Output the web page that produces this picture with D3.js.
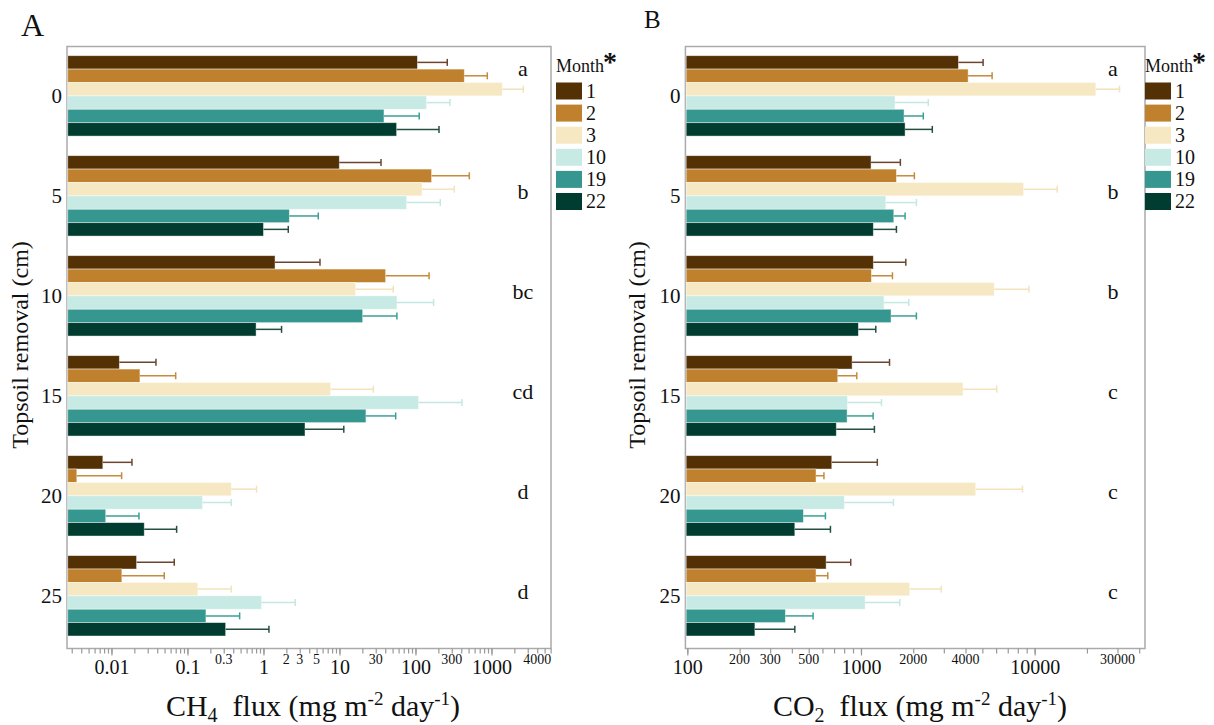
<!DOCTYPE html>
<html>
<head>
<meta charset="utf-8">
<script src="https://cdn.jsdelivr.net/npm/d3@7"></script>
<style>
  body { margin: 0; background: #fff; }
  svg text { font-family: "Liberation Serif", "DejaVu Serif", serif !important; fill: #111; }
</style>
</head>
<body>
<div id="chart"></div>
<script>
var svgWidth = 1214;
var svgHeight = 725;

// months (legend) and topsoil removal depths (y categories)
var months = ["1", "2", "3", "10", "19", "22"];
var depths = ["0", "5", "10", "15", "20", "25"];
var barColors = ["#543005", "#bf812d", "#f6e8c3", "#c7eae5", "#35978f", "#003c30"];
var errColors = ["#6b4530", "#c58a3c", "#f3e3bd", "#c3e8e2", "#3aa096", "#24503f"];

// CH4 flux, one row per depth, one value per month
var ch4Mean = [
  [106, 439, 1387, 140, 38.5, 56.5],
  [9.95, 163, 122, 76.6, 2.19, 1.0],
  [1.42, 40.5, 16.3, 57.1, 20.2, 0.80],
  [0.0127, 0.0237, 7.65, 110, 22.3, 3.52],
  [0.0077, 0.0035, 0.377, 0.158, 0.0084, 0.027],
  [0.0214, 0.0137, 0.137, 0.946, 0.175, 0.318]
];
var ch4Upper = [
  [262, 881, 2620, 284, 112, 204],
  [35.2, 511, 324, 212, 5.26, 2.12],
  [5.54, 151, 51, 173, 57, 1.73],
  [0.0385, 0.070, 27.9, 409, 54.9, 11.4],
  [0.0186, 0.0136, 0.81, 0.377, 0.023, 0.072],
  [0.067, 0.0495, 0.377, 2.62, 0.486, 1.18]
];
var ch4Letters = ["a", "b", "bc", "cd", "d", "d"];

// CO2 flux
var co2Mean = [
  [3640, 4140, 22500, 1570, 1770, 1795],
  [1143, 1600, 8630, 1390, 1545, 1178],
  [1178, 1148, 5850, 1358, 1490, 966],
  [889, 735, 3870, 836, 832, 721],
  [679, 551, 4580, 802, 466, 416],
  [630, 551, 1910, 1057, 367, 245]
];
var co2Upper = [
  [5050, 5690, 30800, 2440, 2285, 2575],
  [1686, 2030, 13500, 2085, 1795, 1600],
  [1812, 1518, 9270, 1885, 2085, 1217],
  [1460, 946, 6050, 1312, 1175, 1195],
  [1242, 612, 8510, 1538, 624, 667],
  [873, 644, 2900, 1672, 530, 416]
];
var co2Letters = ["a", "b", "b", "c", "c", "c"];

// tick labels
var ch4MajorTicks = [0.01, 0.1, 1, 10, 100, 1000];
var ch4SmallTicks = [0.3, 2, 3, 5, 30, 300, 4000];
var co2MajorTicks = [100, 1000, 10000];
var co2SmallTicks = [200, 300, 500, 2000, 4000, 30000];

var svg = d3.select("#chart")
  .append("svg")
  .attr("width", svgWidth)
  .attr("height", svgHeight)
  .attr("font-family", "Liberation Serif, serif");

function minorTicks(domain) {
  var out = [];
  for (var e = -4; e <= 5; e++) {
    for (var k = 1; k <= 9; k++) {
      var v = k * Math.pow(10, e);
      if (v >= domain[0] && v <= domain[1]) out.push(v);
    }
  }
  return out;
}

function drawPanel(p) {
  var x = d3.scaleLog().domain(p.domain).range([p.left, p.right]);
  var y = d3.scaleBand().domain(depths).range([45.7, 646])
    .paddingInner(0.196).paddingOuter(0.1);
  var yInner = d3.scaleBand().domain(months).range([0, y.bandwidth()]);

  var top = 46.5, bottom = 648.5;

  // plot frame
  svg.append("rect")
    .attr("x", p.left).attr("y", top)
    .attr("width", p.right - p.left).attr("height", bottom - top)
    .attr("fill", "none")
    .attr("stroke", "#aaa")
    .attr("stroke-width", 1.5);

  // bars
  var groups = svg.append("g").selectAll("g")
    .data(depths)
    .enter()
    .append("g")
    .attr("transform", d => `translate(0, ${y(d)})`);

  var rowData = (d, i) => months.map((m, j) => ({ m: m, j: j, v: p.mean[i][j], u: p.upper[i][j] }));

  groups.selectAll("rect")
    .data(rowData)
    .enter()
    .append("rect")
    .attr("x", p.left + 0.75)
    .attr("y", d => yInner(d.m))
    .attr("width", d => x(d.v) - p.left - 0.75)
    .attr("height", yInner.bandwidth())
    .attr("fill", d => barColors[d.j])
    .attr("stroke", "rgba(255,255,255,0.55)")
    .attr("stroke-width", 0.8);

  // error bars (upper side only)
  var err = groups.selectAll("g.err")
    .data(rowData)
    .enter()
    .append("g")
    .attr("class", "err")
    .attr("stroke", d => errColors[d.j])
    .attr("stroke-width", 1.5);

  err.append("line")
    .attr("x1", d => x(d.v))
    .attr("x2", d => x(d.u))
    .attr("y1", d => yInner(d.m) + yInner.bandwidth() / 2)
    .attr("y2", d => yInner(d.m) + yInner.bandwidth() / 2);

  err.append("line")
    .attr("x1", d => x(d.u))
    .attr("x2", d => x(d.u))
    .attr("y1", d => yInner(d.m) + yInner.bandwidth() / 2 - 3.5)
    .attr("y2", d => yInner(d.m) + yInner.bandwidth() / 2 + 3.5);

  // significance letters
  svg.append("g").selectAll("text")
    .data(p.letters)
    .enter()
    .append("text")
    .attr("x", p.letterX)
    .attr("y", (d, i) => i === 0 ? y(depths[i]) + 20 : y(depths[i]) + y.bandwidth() / 2 + 3)
    .attr("text-anchor", "middle")
    .attr("font-size", "22px")
    .text(d => d);

  // y tick labels
  svg.append("g").selectAll("text")
    .data(depths)
    .enter()
    .append("text")
    .attr("x", p.left - 5)
    .attr("y", d => y(d) + y.bandwidth() / 2 + 7)
    .attr("text-anchor", "end")
    .attr("font-size", "21px")
    .text(d => d);

  // x axis: minor and major ticks
  var minorAxis = d3.axisBottom(x).tickValues(minorTicks(p.domain))
    .tickSize(5).tickFormat("");
  var gMinor = svg.append("g")
    .attr("transform", `translate(0, ${bottom})`)
    .call(minorAxis);
  gMinor.select(".domain").remove();
  gMinor.selectAll("line").attr("stroke", "#999").attr("stroke-width", 1.2);

  var majorAxis = d3.axisBottom(x).tickValues(p.major)
    .tickSize(7).tickFormat(d => String(d));
  var gMajor = svg.append("g")
    .attr("transform", `translate(0, ${bottom})`)
    .call(majorAxis);
  gMajor.attr("font-family", null).attr("font-size", null);
  gMajor.select(".domain").remove();
  gMajor.selectAll("line").attr("stroke", "#999").attr("stroke-width", 1.2);
  gMajor.selectAll("text")
    .attr("y", 0).attr("dy", null)
    .attr("transform", "translate(0, 25)")
    .attr("font-size", "20px")
    .attr("fill", "#111");

  svg.append("g").selectAll("text")
    .data(p.small)
    .enter()
    .append("text")
    .attr("x", d => x(d))
    .attr("y", bottom + 15)
    .attr("text-anchor", "middle")
    .attr("font-size", "14px")
    .text(d => String(d));

  // x axis title
  var t = svg.append("text")
    .attr("x", p.titleX)
    .attr("y", 716)
    .attr("text-anchor", "middle")
    .attr("font-size", "30px");
  t.append("tspan").text(p.gas);
  t.append("tspan").attr("font-size", "20px").attr("dy", 6).text(p.sub);
  t.append("tspan").attr("dy", -6).text("\u00a0 flux (mg m");
  t.append("tspan").attr("font-size", "19px").attr("dy", -11).text("-2");
  t.append("tspan").attr("dy", 11).text(" day");
  t.append("tspan").attr("font-size", "19px").attr("dy", -11).text("-1");
  t.append("tspan").attr("dy", 11).text(")");

  // y axis title
  svg.append("text")
    .attr("transform", `translate(${p.yTitleX}, 345) rotate(-90)`)
    .attr("text-anchor", "middle")
    .attr("font-size", "24px")
    .text("Topsoil removal (cm)");

  // panel letter
  svg.append("text")
    .attr("x", p.panelX)
    .attr("y", p.panelY)
    .attr("font-size", p.panelSize)
    .text(p.panel);

  // legend
  var lg = svg.append("g").attr("transform", `translate(${p.legendX}, 0)`);
  lg.append("text").attr("x", 0).attr("y", 72).attr("font-size", "18px").text("Month");
  lg.append("text").attr("x", 47).attr("y", 71).attr("font-size", "28px")
    .attr("font-weight", "bold").text("*");
  var rows = lg.selectAll("g.row")
    .data(months)
    .enter()
    .append("g")
    .attr("class", "row")
    .attr("transform", (d, i) => `translate(0, ${82.5 + i * 22.1})`);
  rows.append("rect")
    .attr("width", 26).attr("height", 17)
    .attr("fill", (d, i) => barColors[i]);
  rows.append("text")
    .attr("x", 30).attr("y", 15)
    .attr("font-size", "20px")
    .text(d => d);
}

drawPanel({
  domain: [0.0026, 6070], left: 67, right: 551,
  mean: ch4Mean, upper: ch4Upper, letters: ch4Letters,
  major: ch4MajorTicks, small: ch4SmallTicks,
  letterX: 523, gas: "CH", sub: "4", titleX: 313,
  yTitleX: 28, panel: "A", panelX: 21, panelY: 36, panelSize: "32px",
  legendX: 556
});

drawPanel({
  domain: [97.5, 43200], left: 685.4, right: 1145,
  mean: co2Mean, upper: co2Upper, letters: co2Letters,
  major: co2MajorTicks, small: co2SmallTicks,
  letterX: 1113, gas: "CO", sub: "2", titleX: 920,
  yTitleX: 645, panel: "B", panelX: 644, panelY: 28, panelSize: "25px",
  legendX: 1145
});
</script>
</body>
</html>
